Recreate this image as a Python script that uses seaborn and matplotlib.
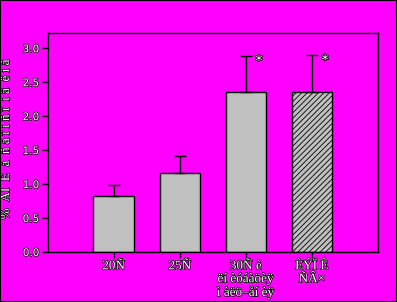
import matplotlib
matplotlib.use("Agg")
import matplotlib.pyplot as plt
import matplotlib.patheffects as pe
import seaborn as sns
import pandas as pd
import numpy as np

categories = ["20Ñ", "25Ñ", "30Ñ è\nëí èóáàöèÿ\nì àëö–åí èÿ", "ÈÝÏ È\nÑÂ×"]
values = [0.83, 1.17, 2.36, 2.36]
errors = [0.16, 0.24, 0.53, 0.54]
stars = ["", "", "*", "*"]
yticks = [0.0, 0.5, 1.0, 1.5, 2.0, 2.5, 3.0]
ylabel = "%  ÀI  Ê  à  ñ à î i ñ î  i â  ë i ã"

sns.set_style("ticks")
plt.rcParams['font.family'] = ['DejaVu Sans']
plt.rcParams['hatch.linewidth'] = 0.6

bg = "#FF00FF"
fig = plt.figure(figsize=(3.97, 3.02), dpi=100, facecolor=bg)
fig.patches.append(plt.Rectangle((0, 0), 1, 1, transform=fig.transFigure,
                                 fill=False, edgecolor="black", linewidth=1.5))
ax = fig.add_axes([47.5/397, (302-252)/302, (378-47.5)/397, (252-33.3)/302])
ax.set_facecolor(bg)

df = pd.DataFrame({"cat": categories, "val": values})
sns.barplot(data=df, x="cat", y="val", color="#C0C0C0", width=0.61,
            edgecolor="black", linewidth=1.0, saturation=1, ax=ax, errorbar=None)

stroke = [pe.withStroke(linewidth=1.0, foreground="black")]
for i, p in enumerate(ax.patches):
    if i == 3:
        p.set_hatch("//////")
    ax.errorbar(i, values[i], yerr=[[0], [errors[i]]], fmt="none",
                ecolor="black", elinewidth=1.0, capsize=4, capthick=1.0)
    if stars[i]:
        ax.text(i + 0.2, values[i] + errors[i] - 0.08, stars[i], ha="center",
                va="center", fontsize=10, color="white",
                path_effects=[pe.withStroke(linewidth=1.2, foreground="black")])

ax.set_xlim(-1, 4)
ax.set_ylim(0, 3.22)
ax.set_yticks(yticks)
ax.set_yticklabels([f"{t:.1f}" for t in yticks], fontsize=7.5, color="white",
                   path_effects=stroke)
ax.set_xticks(range(len(categories)))
ax.set_xticklabels(categories, fontsize=9.5, family="Liberation Serif",
                   color="white", linespacing=1.1, path_effects=stroke)
ax.tick_params(axis="both", direction="out", length=4, width=1, color="black", pad=2)
ax.set_xlabel("")
ax.set_ylabel(ylabel, fontsize=9.5, family="Liberation Serif", color="white",
              path_effects=stroke)
ax.yaxis.set_label_coords(-0.107, 0.52)
for s in ax.spines.values():
    s.set_visible(True)
    s.set_color("black")
    s.set_linewidth(1.0)

fig.savefig("out.png", dpi=100, facecolor=bg)
